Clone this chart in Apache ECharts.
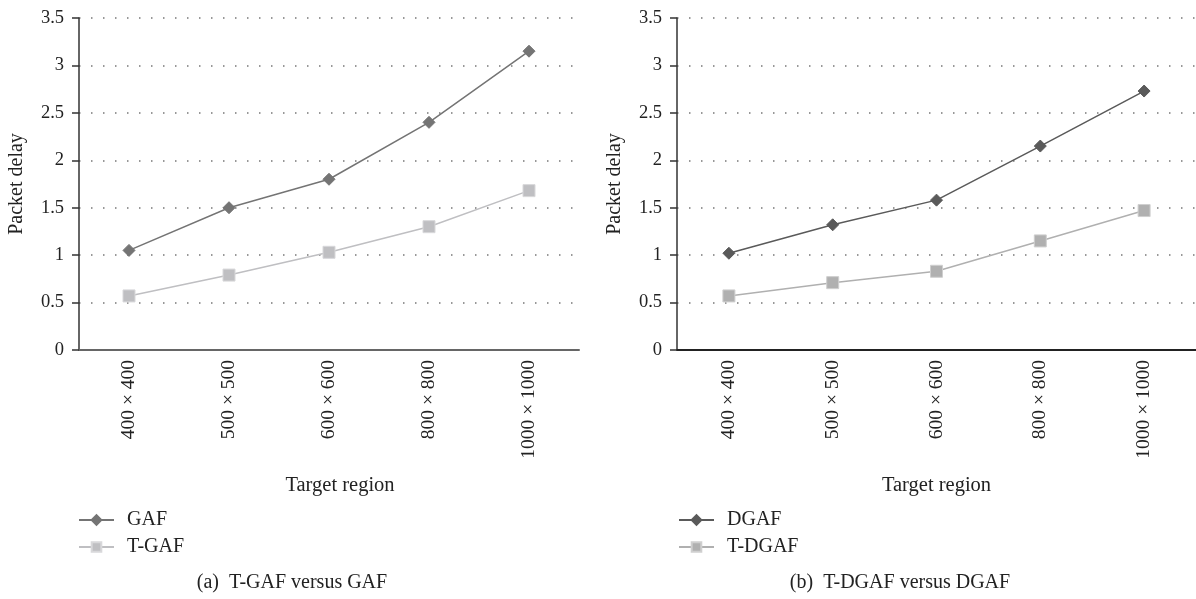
<!DOCTYPE html>
<html>
<head>
<meta charset="utf-8">
<script src="https://cdn.jsdelivr.net/npm/echarts@6/dist/echarts.min.js"></script>
<style>
html,body{margin:0;padding:0;background:#fff;}
#c{width:1196px;height:599px;}
</style>
</head>
<body>
<div id="c"></div>
<script>
var categories = ['400 × 400', '500 × 500', '600 × 600', '800 × 800', '1000 × 1000'];
var gaf   = [1.05, 1.50, 1.80, 2.40, 3.15];
var tgaf  = [0.57, 0.79, 1.03, 1.30, 1.68];
var dgaf  = [1.02, 1.32, 1.58, 2.15, 2.73];
var tdgaf = [0.57, 0.71, 0.83, 1.15, 1.47];
var yMin = 0, yMax = 3.5, yStep = 0.5;

var FONT = '"Liberation Serif", "DejaVu Serif", serif';
var chart = echarts.init(document.getElementById('c'));

function xAxis(gi, color, pad) {
  return {
    type: 'category', gridIndex: gi, data: categories, boundaryGap: true,
    axisLine: {lineStyle: {color: color, width: 2}},
    axisTick: {show: false},
    axisLabel: {rotate: 90, margin: 10, fontFamily: FONT, fontSize: 19.5, color: '#222'},
    name: 'Target region', nameLocation: 'middle', nameGap: 125,
    nameTextStyle: {fontFamily: FONT, fontSize: 20.5, color: '#222', padding: pad}
  };
}
function yAxis(gi) {
  return {
    type: 'value', gridIndex: gi, min: yMin, max: yMax, interval: yStep,
    axisLine: {show: true, lineStyle: {color: '#333', width: 1.5}},
    axisTick: {show: true, length: 7, lineStyle: {color: '#333', width: 1.5}},
    axisLabel: {margin: 15, fontFamily: FONT, fontSize: 18.5, color: '#222'},
    splitLine: {show: true, lineStyle: {color: '#777', width: 1.5, type: [1.5, 10.5]}},
    name: 'Packet delay', nameLocation: 'middle', nameGap: 52,
    nameTextStyle: {fontFamily: FONT, fontSize: 20, color: '#222'}
  };
}
function line(name, data, gi, color, symbol, borderColor) {
  return {
    name: name, type: 'line', xAxisIndex: gi, yAxisIndex: gi, data: data,
    symbol: symbol, symbolSize: 12, showSymbol: true,
    lineStyle: {color: color, width: 1.5},
    itemStyle: {color: color, borderColor: borderColor || color, borderWidth: 1},
    animation: false
  };
}

var captionStyle = {fontFamily: FONT, fontSize: 20, fontWeight: 'normal', color: '#222'};
var legendText = {fontFamily: FONT, fontSize: 20, color: '#222', padding: [0, 0, 0, 8]};

chart.setOption({
  backgroundColor: '#fff',
  animation: false,
  title: [
    {text: '(a)  T-GAF versus GAF', left: 292, top: 573, textAlign: 'center', padding: 0, textStyle: captionStyle},
    {text: '(b)  T-DGAF versus DGAF', left: 900, top: 573, textAlign: 'center', padding: 0, textStyle: captionStyle}
  ],
  grid: [
    {left: 79, top: 18, width: 500, height: 332},
    {left: 677, top: 18, width: 522, height: 332}
  ],
  xAxis: [xAxis(0, '#666', [0, 0, 0, 22]), xAxis(1, '#222', [0, 0, 0, 0])],
  yAxis: [yAxis(0), yAxis(1)],
  legend: [
    {data: ['GAF', 'T-GAF'], orient: 'vertical', left: 78, top: 510, padding: 0, itemWidth: 35, itemHeight: 12,
     itemGap: 7, textStyle: legendText},
    {data: ['DGAF', 'T-DGAF'], orient: 'vertical', left: 678, top: 510, padding: 0, itemWidth: 35, itemHeight: 12,
     itemGap: 7, textStyle: legendText}
  ],
  series: [
    line('GAF', gaf, 0, '#747474', 'diamond'),
    line('T-GAF', tgaf, 0, '#bfbfc2', 'rect', '#d8d8da'),
    line('DGAF', dgaf, 1, '#5a5a5a', 'diamond'),
    line('T-DGAF', tdgaf, 1, '#b0b0b0', 'rect', '#cfcfcf')
  ]
});
</script>
</body>
</html>
